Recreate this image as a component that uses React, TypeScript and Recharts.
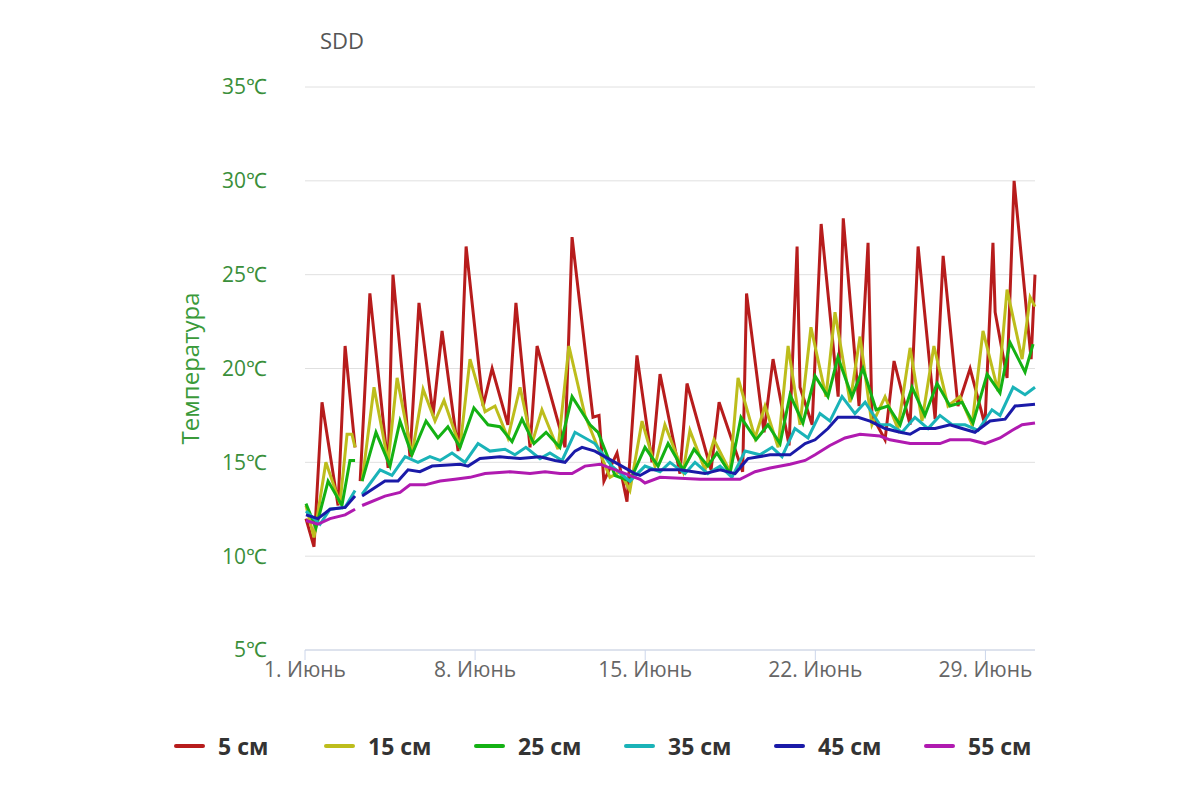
import React from 'react';
import { LineChart, Line, XAxis, YAxis, CartesianGrid } from 'recharts';

type P = [number, number | null];

const s5: P[] = [[0.04,12],[0.37,10.5],[0.70,18.2],[1.36,12.7],[1.65,21.2],[2.06,15.8],[2.15,null],[2.27,14],[2.67,24],[3.42,14.7],[3.62,25],[4.32,15.3],[4.69,23.5],[5.27,17.5],[5.64,22],[6.30,15.6],[6.63,26.5],[7.33,18],[7.70,20],[8.35,17],[8.68,23.5],[9.26,15.8],[9.55,21.2],[10.70,15.8],[10.99,27],[11.85,17.4],[12.10,17.5],[12.30,14],[12.84,15.5],[13.25,12.9],[13.66,20.7],[14.28,15],[14.61,19.7],[15.43,14.4],[15.72,19.2],[16.71,14.6],[17.04,18.2],[18.01,14.5],[18.17,24],[18.89,16.6],[19.26,20.5],[19.92,15.9],[20.25,26.5],[20.37,19],[20.87,17],[21.24,27.7],[21.94,18.5],[22.15,28],[22.80,18],[23.17,26.7],[23.33,17.5],[23.87,16.2],[24.24,20.4],[24.90,17],[25.23,26.5],[25.93,17.3],[26.26,26],[26.87,18],[27.37,20],[27.98,17],[28.31,26.7],[28.40,23],[28.89,19.5],[29.18,30],[29.88,20.5],[30.04,25]];

const s15: P[] = [[0.04,12.7],[0.37,11],[0.86,15],[1.44,12.8],[1.73,16.5],[1.93,16.5],[2.06,15.8],[2.15,null],[2.35,14],[2.84,19],[3.42,15],[3.79,19.5],[4.40,15.4],[4.86,18.9],[5.35,17.2],[5.72,18.3],[6.38,15.8],[6.79,20.5],[7.41,17.7],[7.82,18],[8.35,16.3],[8.85,19],[9.34,16],[9.75,17.8],[10.41,15.7],[10.86,21.2],[11.52,17.5],[12.14,15.5],[12.55,14.2],[12.96,14.5],[13.37,13.5],[13.87,17.2],[14.40,14.8],[14.81,17],[15.56,14.5],[15.84,16.7],[16.46,14.6],[16.83,16.2],[17.49,14.5],[17.82,19.5],[18.52,16.3],[18.93,18],[19.47,15.8],[19.88,21.2],[20.37,17],[20.82,22.2],[21.44,18.5],[21.81,23],[22.43,18.2],[22.84,21.7],[23.33,17],[23.87,18.5],[24.40,16.8],[24.90,21.1],[25.39,17.2],[25.88,21.2],[26.46,18],[26.95,18.5],[27.45,17],[27.90,22],[28.52,18.8],[28.89,24.2],[29.51,20.5],[29.84,23.8],[30.04,23.3]];

const s25: P[] = [[0.04,12.8],[0.45,11.5],[0.95,14],[1.52,12.7],[1.85,15.1],[2.06,15.1],[2.15,null],[2.35,14],[2.92,16.6],[3.50,14.8],[3.91,17.2],[4.40,15.4],[4.98,17.2],[5.47,16.3],[5.88,16.9],[6.38,15.8],[6.95,17.9],[7.53,17],[8.02,16.9],[8.52,16.1],[8.93,17.3],[9.42,16],[9.92,16.6],[10.49,15.8],[10.99,18.5],[11.73,17],[12.06,16.6],[12.76,14.3],[13.37,14],[13.99,15.8],[14.53,14.8],[14.94,16],[15.56,14.6],[16.01,15.7],[16.58,14.8],[16.95,15.5],[17.49,14.4],[17.94,17.4],[18.56,16.2],[19.05,17],[19.55,16],[19.96,18.6],[20.49,17.1],[20.99,19.6],[21.52,18.5],[21.93,20.6],[22.51,18.5],[22.96,20],[23.50,17.8],[23.99,18],[24.49,17],[24.98,19],[25.51,17.5],[26.01,19.2],[26.54,18],[27.04,18.2],[27.49,17.1],[28.07,19.7],[28.60,18.7],[29.01,21.4],[29.63,19.8],[29.96,21.3]];

const s35: P[] = [[0.04,12.4],[0.62,11.7],[1.03,12.5],[1.65,12.6],[2.06,13.5],[2.15,null],[2.35,13.3],[3.09,14.6],[3.58,14.3],[4.12,15.3],[4.65,15],[5.14,15.3],[5.56,15.1],[6.05,15.5],[6.58,15],[7.12,16],[7.61,15.6],[8.23,15.7],[8.64,15.4],[9.09,15.8],[9.67,15.2],[10.08,15.5],[10.58,15.1],[11.11,16.6],[11.93,16],[12.63,14.8],[13.37,14],[13.99,14.8],[14.61,14.5],[15.02,15],[15.64,14.4],[16.05,15],[16.58,14.4],[17.08,14.8],[17.57,14.2],[18.11,15.6],[18.72,15.4],[19.22,15.8],[19.63,15.3],[20.16,16.8],[20.70,16.3],[21.19,17.6],[21.60,17.2],[22.10,18.5],[22.63,17.6],[23.05,18.2],[23.66,17],[24.07,17],[24.57,16.6],[25.10,17.4],[25.64,16.8],[26.13,17.5],[26.63,17],[27.16,17],[27.70,16.7],[28.27,17.8],[28.60,17.5],[29.14,19],[29.63,18.6],[30.04,19]];

const s45: P[] = [[0.04,12.2],[0.53,12],[1.03,12.5],[1.65,12.6],[2.06,13.2],[2.15,null],[2.35,13.2],[3.29,14],[3.83,14],[4.24,14.6],[4.73,14.5],[5.23,14.8],[6.38,14.9],[6.71,14.8],[7.20,15.2],[8.02,15.3],[8.85,15.2],[9.67,15.3],[10.29,15.1],[10.70,15],[11.11,15.6],[11.40,15.8],[11.93,15.6],[12.76,15],[13.58,14.4],[13.79,14.3],[14.20,14.6],[15.43,14.6],[16.46,14.4],[17.08,14.6],[17.70,14.4],[18.23,15.2],[19.14,15.4],[19.96,15.4],[20.58,16],[20.99,16.2],[21.52,16.8],[21.93,17.4],[22.76,17.4],[23.25,17.2],[23.87,16.8],[24.49,16.6],[24.90,16.5],[25.31,16.8],[25.93,16.8],[26.54,17],[27.04,16.8],[27.57,16.6],[28.19,17.2],[28.81,17.3],[29.22,18],[30.04,18.1]];

const s55: P[] = [[0.04,11.9],[0.53,11.7],[1.03,12],[1.65,12.2],[2.06,12.5],[2.15,null],[2.35,12.7],[3.29,13.2],[3.91,13.4],[4.32,13.8],[4.94,13.8],[5.56,14],[6.17,14.1],[6.79,14.2],[7.41,14.4],[8.44,14.5],[9.26,14.4],[9.88,14.5],[10.49,14.4],[10.99,14.4],[11.52,14.8],[12.14,14.9],[12.96,14.5],[13.79,14.1],[13.99,13.9],[14.61,14.2],[16.26,14.1],[17.90,14.1],[18.52,14.5],[19.14,14.7],[19.96,14.9],[20.58,15.1],[20.99,15.4],[21.60,15.9],[22.22,16.3],[22.84,16.5],[23.66,16.4],[24.07,16.2],[24.90,16],[26.13,16],[26.54,16.2],[27.37,16.2],[27.98,16],[28.60,16.3],[29.09,16.7],[29.51,17],[30.04,17.1]];

const series = [
  { name: '5 см', color: '#b71c1c', data: s5 },
  { name: '15 см', color: '#bdbd1c', data: s15 },
  { name: '25 см', color: '#14b114', data: s25 },
  { name: '35 см', color: '#1ab3b8', data: s35 },
  { name: '45 см', color: '#1a1aa8', data: s45 },
  { name: '55 см', color: '#b01ab0', data: s55 },
];

const xTicks = [0, 7, 14, 21, 28];
const xLabels = ['1. Июнь', '8. Июнь', '15. Июнь', '22. Июнь', '29. Июнь'];
const yTicks = [5, 10, 15, 20, 25, 30, 35];

const font = '"Open Sans", sans-serif';

export default function App() {
  return (
    <div style={{ position: 'absolute', left: 0, top: 0, width: 1200, height: 800, fontFamily: font }}>
      <div style={{ position: 'absolute', left: 320, top: 25, fontSize: 22, color: '#555' }}>SDD</div>
      <LineChart width={1200} height={800} margin={{ top: 87, right: 165, left: 178, bottom: 120 }}>
        <CartesianGrid vertical={false} stroke="#e0e0e0" />
        <XAxis type="number" dataKey="0" domain={[0, 30]} ticks={xTicks} allowDuplicatedCategory={false}
          tickFormatter={(v: number) => xLabels[xTicks.indexOf(v)] ?? ''}
          stroke="#ccd6eb" tickSize={10} height={30}
          tick={{ fill: '#666', fontSize: 21, fontFamily: font }} />
        <YAxis type="number" domain={[5, 35]} ticks={yTicks} width={127} axisLine={false} tickLine={false}
          tickMargin={32} tickFormatter={(v: number) => `${v}℃`}
          tick={{ fill: '#3a8f3a', fontSize: 21, fontFamily: font }}
          label={{ value: 'Температура', angle: -90, position: 'insideLeft', offset: 0, dx: 12, fill: '#3a9a3a', fontSize: 24, style: { textAnchor: 'middle' } }} />
        {series.map((s) => (
          <Line key={s.name} data={s.data} dataKey="1" name={s.name} stroke={s.color} strokeWidth={3}
            dot={false} isAnimationActive={false} connectNulls={false} type="linear" />
        ))}
      </LineChart>
      <div style={{ position: 'absolute', top: 730, left: 174, display: 'flex' }}>
        {series.map((s) => (
          <div key={s.name} style={{ width: 150, display: 'flex', alignItems: 'center' }}>
            <div style={{ width: 31, height: 4, borderRadius: 2, background: s.color, marginRight: 13 }} />
            <span style={{ fontSize: 23, fontWeight: 'bold', color: '#333' }}>{s.name}</span>
          </div>
        ))}
      </div>
    </div>
  );
}
